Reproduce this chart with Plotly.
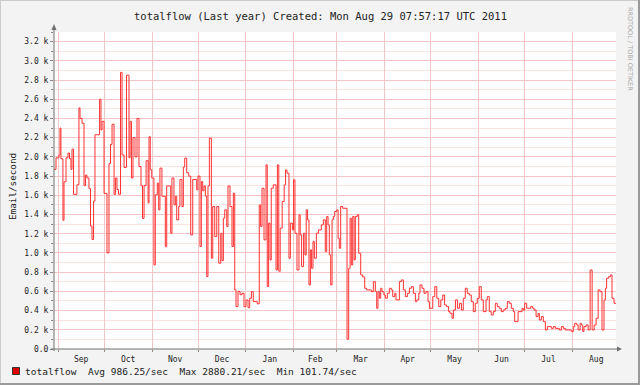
import pandas as pd
import plotly.graph_objects as go

# ---------------- data ----------------
start = pd.Timestamp("2010-08-29 07:57:17")
end = pd.Timestamp("2011-08-29 07:57:17")

# days since start of each step, and the value (Email/second) from that point on
days = [0, 1.3, 3.2, 3.9, 4.5, 5.8, 6.5, 7.8, 9.1, 10.1, 11.0, 11.7, 12.7, 14.9, 16.2, 16.9,
        18.2, 19.5, 20.5, 21.4, 22.7, 23.7, 24.7, 25.7, 26.6, 29.6, 30.5, 31.2, 32.5, 34.4,
        35.7, 36.7, 37.7, 39.0, 39.9, 40.9, 41.9, 43.2, 44.2, 45.5, 47.1, 48.7, 49.4, 50.3,
        51.3, 52.6, 53.9, 55.2, 56.5, 57.5, 58.5, 59.8, 61.1, 61.7, 62.5, 63.5, 64.9, 65.8,
        67.1, 68.0, 68.8, 70.1, 72.3, 73.2, 75.8, 76.6, 77.9, 78.8, 79.7, 81.0, 81.8, 83.1,
        84.0, 84.9, 86.2, 87.5, 88.8, 90.1, 92.7, 93.5, 94.8, 95.7, 96.6, 97.4, 98.3, 99.2,
        100.0, 100.9, 102.2, 103.1, 104.4, 105.7, 107.0, 108.3, 109.1, 110.0, 110.9, 112.2,
        113.0, 114.3, 115.6, 116.5, 117.4, 118.2, 119.5, 120.8, 122.1, 123.4, 124.7, 126.0,
        127.1, 128.2, 129.4, 132.0, 133.3, 134.2, 135.1, 136.4, 137.7, 138.5, 139.4, 140.3,
        141.1, 142.4, 144.2, 145.1, 146.0, 146.9, 148.2, 149.5, 150.4, 151.3, 152.6, 153.5,
        154.8, 155.6, 156.5, 157.8, 159.1, 159.9, 160.8, 162.1, 163.0, 163.8, 164.7, 165.6,
        166.5, 167.3, 168.2, 169.1, 170.4, 171.7, 173.6, 174.9, 176.2, 177.1, 178.0, 178.8,
        179.7, 180.6, 181.4, 182.3, 183.6, 184.5, 185.3, 186.2, 187.5, 190.3, 191.4, 192.3,
        193.1, 194.0, 194.9, 195.7, 197.0, 197.9, 199.2, 200.5, 201.8, 203.1, 206.1, 207.4,
        208.7, 209.6, 210.4, 211.3, 212.2, 213.0, 214.3, 215.2, 216.5, 217.8, 219.1, 220.0,
        221.3, 222.1, 224.3, 225.6, 226.9, 228.2, 229.5, 230.8, 232.1, 233.4, 234.7, 235.6,
        236.9, 237.7, 239.0, 240.3, 241.6, 242.9, 243.8, 246.0, 247.3, 248.6, 249.9, 251.2,
        252.5, 253.7, 255.0, 256.3, 257.2, 258.5, 259.4, 260.7, 262.0, 263.3, 264.6, 265.8,
        267.1, 268.4, 269.7, 271.0, 272.3, 273.6, 274.9, 276.2, 277.5, 278.8, 280.6, 281.4,
        282.7, 284.0, 285.3, 286.6, 287.9, 289.2, 290.5, 291.8, 293.1, 294.4, 295.7, 297.0,
        298.3, 299.2, 301.4, 304.0, 304.8, 305.7, 307.0, 309.6, 310.9, 311.8, 313.1, 314.4,
        315.2, 316.5, 317.8, 319.1, 320.4, 323.0, 324.3, 325.6, 328.2, 329.5, 330.8, 332.1,
        336.0, 337.3, 338.2, 339.5, 340.4, 341.7, 342.5, 343.4, 344.2, 345.6, 346.9, 348.2,
        349.5, 350.8, 352.1, 353.4, 354.6, 355.9, 357.2, 358.1, 358.9, 360.2, 361.5, 362.4,
        363.7, 365.0]

values = [1870, 1990, 2020, 2300, 1980, 1340, 1740, 1990, 2040, 1980, 1870, 2080, 1610, 1710, 2510, 2400,
          2350, 1700, 1810, 1780, 1670, 1280, 1140, 1540, 2230, 2600, 2280, 2370, 1620, 1000,
          1930, 2130, 2340, 1610, 1780, 1660, 1610, 2880, 2020, 1890, 2850, 1990, 2370, 1780,
          2200, 2000, 2400, 1900, 1700, 1360, 1700, 1960, 1520, 2210, 1865, 1780, 875, 1605,
          1726, 1448, 1883, 1590, 1066, 1697, 1205, 1780, 1500, 1590, 1344, 1483, 1765, 1483,
          1894, 1987, 1835, 1800, 1188, 1765, 1657, 1800, 1066, 1743, 1646, 1697, 1590, 754,
          1697, 2195, 945, 1483, 1170, 1483, 893, 1205, 920, 1362, 1448, 1275,
          1697, 1483, 1066, 1622, 615, 441, 600, 565, 580, 441, 510, 430,
          528, 597, 493, 470, 1500, 1275, 1674, 1136, 1917, 650, 1310, 927,
          1674, 1709, 823, 1917, 810, 1258, 1535, 1709, 1865, 1830, 945, 1310,
          1240, 1761, 1205, 823, 1396, 1188, 858, 1205, 979, 1448, 1344, 667,
          1032, 840, 1118, 945, 1205, 1240, 1292, 1344, 1014, 1379, 1292, 979,
          667, 1344, 1379, 1431, 1448, 1153, 1049, 1483, 1465, 102, 840, 1362,
          875, 1380, 927, 1380, 1397, 997, 771, 750, 632, 615, 597, 701,
          597, 424, 597, 528, 632, 597, 562, 528, 580, 632, 615, 545,
          580, 511, 701, 719, 615, 545, 580, 632, 649, 580, 493, 511,
          580, 667, 632, 580, 597, 493, 424, 545, 649, 528, 441, 511,
          562, 458, 441, 389, 372, 320, 406, 511, 424, 476, 406, 528,
          632, 580, 562, 493, 389, 476, 528, 649, 511, 389, 511, 545,
          389, 354, 389, 476, 441, 424, 389, 406, 424, 493, 476, 424,
          389, 285, 389, 424, 406, 476, 424, 441, 424, 406, 337, 371,
          302, 337, 285, 198, 233, 215, 233, 215, 198, 233, 215, 198,
          183, 233, 267, 250, 198, 267, 250, 183, 233, 250, 198, 823,
          198, 250, 320, 615, 597, 198, 511, 632, 737, 753, 771, 528,
          476, 476]

ytick_vals = [0, 200, 400, 600, 800, 1000, 1200, 1400, 1600, 1800, 2000, 2200, 2400, 2600, 2800, 3000, 3200]
ytick_text = ["0.0", "0.2 k", "0.4 k", "0.6 k", "0.8 k", "1.0 k", "1.2 k", "1.4 k", "1.6 k",
              "1.8 k", "2.0 k", "2.2 k", "2.4 k", "2.6 k", "2.8 k", "3.0 k", "3.2 k"]

title_text = "totalflow (Last year) Created: Mon Aug 29 07:57:17 UTC 2011"
legend_text = "totalflow  Avg 986.25/sec  Max 2880.21/sec  Min 101.74/sec"
ylabel = "Email/second"
watermark = "RRDTOOL / TOBI OETIKER"

# ---------------- layout helpers ----------------
W, H = 640, 385
L, R, T, B = 54, 616, 32, 349   # plot area in pixels


def px(x):
    return (x - L) / (R - L)


def py(y):
    return (B - y) / (B - T)


MONO = "DejaVu Sans Mono"
MAJOR = "#f2c6c6"
MINOR = "#f9e3e3"

times = start + pd.to_timedelta(days, unit="D")

fig = go.Figure(go.Scatter(
    x=times, y=values, mode="lines",
    line=dict(color="#ff3030", width=1, shape="hv"),
    hoverinfo="skip"))

fig.update_layout(
    width=W, height=H,
    margin=dict(l=L, r=W - R, t=T, b=H - B),
    paper_bgcolor="#f3f3f3", plot_bgcolor="#ffffff",
    showlegend=False,
    xaxis=dict(type="date", range=[start, end], dtick="M1", tick0="2010-09-01",
               tickformat="%b", ticklabelmode="period",
               showgrid=True, gridcolor=MAJOR, gridwidth=1,
               ticks="outside", ticklen=2, tickcolor="#888",
               tickfont=dict(family=MONO, size=8, color="#222"),
               zeroline=False, showline=False, fixedrange=True),
    yaxis=dict(range=[0, 3300], tickmode="array", tickvals=ytick_vals, ticktext=ytick_text,
               showgrid=True, gridcolor=MAJOR, gridwidth=1,
               minor=dict(tickmode="linear", tick0=0, dtick=100, showgrid=True,
                          gridcolor=MINOR, ticks="outside", ticklen=2, tickcolor="#888"),
               ticks="outside", ticklen=3, tickcolor="#888",
               tickfont=dict(family=MONO, size=8, color="#222"),
               zeroline=False, showline=False, fixedrange=True),
)

shapes = [
    # frame of the image
    dict(type="line", x0=px(0.5), x1=px(W), y0=py(0.5), y1=py(0.5), line=dict(color="#cbcbcb", width=1)),
    dict(type="line", x0=px(0.5), x1=px(0.5), y0=py(0), y1=py(H), line=dict(color="#cbcbcb", width=1)),
    dict(type="line", x0=px(W - 1), x1=px(W - 1), y0=py(0), y1=py(H), line=dict(color="#9a9a9a", width=2)),
    dict(type="line", x0=px(0), x1=px(W), y0=py(H - 1), y1=py(H - 1), line=dict(color="#9a9a9a", width=2)),
    # axes with arrows
    dict(type="line", x0=px(L), x1=px(L), y0=py(B + 2), y1=py(27), line=dict(color="#707070", width=1)),
    dict(type="path", path=f"M {px(L-2.5)} {py(30)} L {px(L+2.5)} {py(30)} L {px(L)} {py(24)} Z",
         fillcolor="#707070", line=dict(color="#707070", width=0)),
    dict(type="line", x0=px(L - 3), x1=px(619), y0=py(B), y1=py(B), line=dict(color="#707070", width=1)),
    dict(type="path", path=f"M {px(617)} {py(B-2.5)} L {px(617)} {py(B+2.5)} L {px(622)} {py(B)} Z",
         fillcolor="#707070", line=dict(color="#707070", width=0)),
    # legend swatch
    dict(type="rect", x0=px(12.5), x1=px(19.5), y0=py(374.5), y1=py(367.5),
         fillcolor="#e00000", line=dict(color="#333333", width=1)),
]
for s in shapes:
    s.update(xref="paper", yref="paper", layer="above")
fig.update_layout(shapes=shapes)

annotations = [
    dict(text=title_text, x=px(320), y=py(16), xanchor="center", yanchor="middle",
         font=dict(family=MONO, size=10.5, color="#222")),
    dict(text=legend_text, x=px(23), y=py(371), xanchor="left", yanchor="middle",
         font=dict(family=MONO, size=9.5, color="#222")),
    dict(text=ylabel, x=px(12), y=py(187), xanchor="center", yanchor="middle", textangle=-90,
         font=dict(family=MONO, size=9.3, color="#222")),
    dict(text=watermark, x=px(630), y=py(49), xanchor="center", yanchor="middle", textangle=90,
         font=dict(family="DejaVu Sans", size=6.5, color="#aaaaaa")),
]
for a in annotations:
    a.update(xref="paper", yref="paper", showarrow=False)
fig.update_layout(annotations=annotations)

fig.write_html("out.html", config={"displayModeBar": False, "staticPlot": True},
               post_script="document.body.style.margin='0';document.body.style.overflow='hidden';")
